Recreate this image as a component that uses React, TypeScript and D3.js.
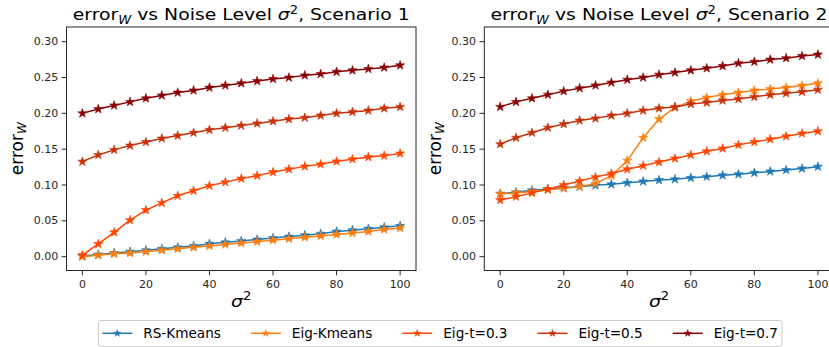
import React from 'react';
import * as d3 from 'd3';

const sigma2 = [0, 5, 10, 15, 20, 25, 30, 35, 40, 45, 50, 55, 60, 65, 70, 75, 80, 85, 90, 95, 100];
const seriesNames = ['RS-Kmeans', 'Eig-Kmeans', 'Eig-t=0.3', 'Eig-t=0.5', 'Eig-t=0.7'];
const seriesColors = ['#1f77b4', '#ff7f0e', '#ff4500', '#c93008', '#8b0000'];

// Scenario 1
const rsKmeans1 = [0.001, 0.003, 0.005, 0.007, 0.009, 0.011, 0.013, 0.015, 0.018, 0.020, 0.022, 0.024, 0.026, 0.028, 0.030, 0.032, 0.035, 0.037, 0.039, 0.041, 0.043];
const eigKmeans1 = [0.000, 0.002, 0.004, 0.005, 0.007, 0.009, 0.011, 0.013, 0.015, 0.017, 0.019, 0.021, 0.023, 0.025, 0.027, 0.029, 0.031, 0.033, 0.035, 0.038, 0.040];
const eigT03_1 = [0.002, 0.0177, 0.034, 0.051, 0.065, 0.075, 0.085, 0.092, 0.099, 0.104, 0.109, 0.113, 0.118, 0.122, 0.126, 0.129, 0.133, 0.136, 0.139, 0.141, 0.144];
const eigT05_1 = [0.1326, 0.142, 0.149, 0.155, 0.160, 0.165, 0.169, 0.173, 0.177, 0.180, 0.183, 0.186, 0.189, 0.192, 0.194, 0.197, 0.200, 0.202, 0.204, 0.207, 0.209];
const eigT07_1 = [0.200, 0.206, 0.211, 0.216, 0.221, 0.225, 0.229, 0.232, 0.236, 0.239, 0.242, 0.245, 0.248, 0.250, 0.253, 0.255, 0.258, 0.260, 0.262, 0.264, 0.267];

// Scenario 2
const rsKmeans2 = [0.088, 0.090, 0.0926, 0.0944, 0.0967, 0.0977, 0.0995, 0.101, 0.103, 0.105, 0.107, 0.108, 0.110, 0.1116, 0.1135, 0.115, 0.117, 0.119, 0.121, 0.123, 0.1256];
const eigKmeans2 = [0.0874, 0.089, 0.091, 0.0935, 0.0953, 0.0977, 0.102, 0.113, 0.134, 0.166, 0.192, 0.208, 0.217, 0.222, 0.226, 0.229, 0.232, 0.234, 0.236, 0.239, 0.242];
const eigT03_2 = [0.079, 0.0837, 0.089, 0.094, 0.100, 0.1056, 0.111, 0.116, 0.122, 0.127, 0.132, 0.137, 0.142, 0.147, 0.151, 0.156, 0.160, 0.164, 0.168, 0.172, 0.175];
const eigT05_2 = [0.157, 0.166, 0.173, 0.180, 0.185, 0.190, 0.193, 0.197, 0.200, 0.204, 0.207, 0.209, 0.213, 0.215, 0.218, 0.220, 0.223, 0.226, 0.228, 0.230, 0.233];
const eigT07_2 = [0.209, 0.216, 0.221, 0.226, 0.231, 0.235, 0.239, 0.243, 0.247, 0.250, 0.254, 0.257, 0.260, 0.263, 0.266, 0.270, 0.272, 0.275, 0.277, 0.280, 0.282];

const yTicks = [0, 0.05, 0.1, 0.15, 0.2, 0.25, 0.3];
const xTicks = [0, 20, 40, 60, 80, 100];
const scenarioTitles = ['1', '2'];

const FONT = 'DejaVu Sans, sans-serif';
const TOP = 27;
const BOTTOM = 270.5;

const panels = [
  { x0: 66.5, x1: 416, ylabX: 22.5, title: scenarioTitles[0], series: [rsKmeans1, eigKmeans1, eigT03_1, eigT05_1, eigT07_1] },
  { x0: 484.3, x1: 833.8, ylabX: 440.5, title: scenarioTitles[1], series: [rsKmeans2, eigKmeans2, eigT03_2, eigT05_2, eigT07_2] },
];

function measure(text: string, font: string): number {
  const c = document.createElement('canvas');
  const ctx = c.getContext('2d');
  if (!ctx) return text.length * 8;
  ctx.font = font;
  return ctx.measureText(text).width;
}

const star = d3.symbol().type(d3.symbolStar);

function Panel({ p }: { p: typeof panels[number] }) {
  const x = d3.scaleLinear().domain([-5, 105]).range([p.x0, p.x1]);
  const y = d3.scaleLinear().domain([-0.0193, 0.3205]).range([BOTTOM, TOP]);
  const line = d3.line<number>().x((_, i) => x(sigma2[i])).y((d) => y(d));
  const cx = (p.x0 + p.x1) / 2;
  const fmt = d3.format('.2f');
  return (
    <g>
      <defs>
        <clipPath id={`clip${p.title}`}>
          <rect x={p.x0} y={TOP} width={p.x1 - p.x0} height={BOTTOM - TOP} />
        </clipPath>
      </defs>
      {/* series */}
      <g clipPath={`url(#clip${p.title})`}>
        {p.series.map((vals, si) => (
          <g key={si}>
            <path d={line(vals) || ''} fill="none" stroke={seriesColors[si]} strokeWidth={1.5} strokeLinejoin="round" />
            {vals.map((v, i) => (
              <path key={i} d={star.size(26)() || ''} transform={`translate(${x(sigma2[i])},${y(v)})`} fill={seriesColors[si]} stroke={seriesColors[si]} strokeWidth={0.6} />
            ))}
          </g>
        ))}
      </g>
      {/* frame */}
      <rect x={p.x0} y={TOP} width={p.x1 - p.x0} height={BOTTOM - TOP} fill="none" stroke="#262626" strokeWidth={1} />
      {/* y ticks */}
      {yTicks.map((t) => (
        <g key={t}>
          <line x1={p.x0 - 4.8} x2={p.x0} y1={y(t)} y2={y(t)} stroke="#262626" strokeWidth={1} />
          <text transform={`translate(${p.x0 - 8.3},${y(t) + 3.6}) scale(1.1,1)`} textAnchor="end" fontSize={10} fontFamily={FONT} fill="#262626">{fmt(t)}</text>
        </g>
      ))}
      {/* x ticks */}
      {xTicks.map((t) => (
        <g key={t}>
          <line x1={x(t)} x2={x(t)} y1={BOTTOM} y2={BOTTOM + 4.8} stroke="#262626" strokeWidth={1} />
          <text transform={`translate(${x(t)},288.3) scale(1.1,1)`} textAnchor="middle" fontSize={10} fontFamily={FONT} fill="#262626">{t}</text>
        </g>
      ))}
      {/* title */}
      <text transform={`translate(${cx},20) scale(1.14,1)`} textAnchor="middle" fontSize={16.5} fontFamily={FONT} fill="#000">
        error<tspan fontStyle="italic" fontSize={11.5} dy={3.5}>W</tspan><tspan dy={-3.5}> vs Noise Level </tspan><tspan fontStyle="italic">σ</tspan><tspan fontSize={11.5} dy={-6.5}>2</tspan><tspan dy={6.5}>, Scenario {p.title}</tspan>
      </text>
      {/* y label */}
      <text transform={`translate(${p.ylabX},${(TOP + BOTTOM) / 2}) rotate(-90)`} textAnchor="middle" fontSize={17} fontFamily={FONT} fill="#000">
        error<tspan fontStyle="italic" fontSize={12} dy={3.5}>W</tspan>
      </text>
      {/* x label */}
      <text transform={`translate(${cx},306.5) scale(1.14,1)`} textAnchor="middle" fontSize={16.5} fontFamily={FONT} fill="#000">
        <tspan fontStyle="italic">σ</tspan><tspan fontSize={11.5} dy={-6.5}>2</tspan>
      </text>
    </g>
  );
}

function Legend() {
  const fs = 13.6;
  const font = `${fs}px DejaVu Sans`;
  const lineLen = 30;
  const textPad = 11;
  const colGap = 30;
  let cur = 102.3;
  const items = seriesNames.map((name, i) => {
    const w = measure(name, font);
    const item = { name, color: seriesColors[i], lx: cur, tx: cur + lineLen + textPad };
    cur = item.tx + w + colGap;
    return item;
  });
  const right = cur - colGap + 4;
  const boxLeft = 98.5;
  const ly = 333.3;
  return (
    <g>
      <rect x={boxLeft} y={320.5} width={right - boxLeft} height={26} rx={2.5} fill="#fff" fillOpacity={0.8} stroke="#cccccc" strokeWidth={1} />
      {items.map((it) => (
        <g key={it.name}>
          <line x1={it.lx} x2={it.lx + lineLen} y1={ly} y2={ly} stroke={it.color} strokeWidth={1.5} />
          <path d={star.size(16)() || ''} transform={`translate(${it.lx + lineLen / 2},${ly})`} fill={it.color} stroke={it.color} strokeWidth={0.5} />
          <text x={it.tx} y={ly + 5} fontSize={fs} fontFamily={FONT} fill="#000">{it.name}</text>
        </g>
      ))}
    </g>
  );
}

export default function App() {
  return (
    <svg width={829} height={347} style={{ position: 'absolute', left: 0, top: 0, background: '#fff' }}>
      <rect x={0} y={0} width={829} height={347} fill="#fff" />
      {panels.map((p) => (
        <Panel key={p.title} p={p} />
      ))}
      <Legend />
    </svg>
  );
}
